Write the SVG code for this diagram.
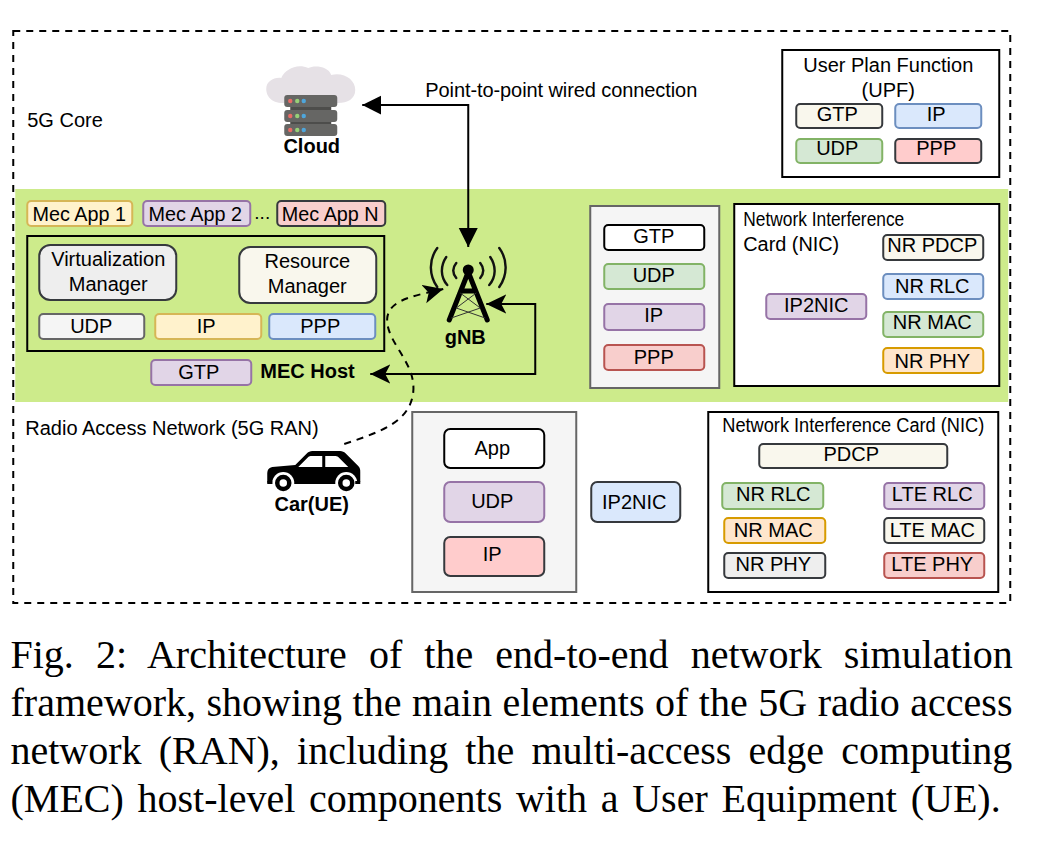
<svg xmlns="http://www.w3.org/2000/svg" width="1042" height="852" viewBox="0 0 1042 852">
<style>
text{font-family:"Liberation Sans",Arial,sans-serif;font-size:20px;fill:#000}
.c{text-anchor:middle}
.b{font-weight:bold}
.cap{font-family:"Liberation Serif","Times New Roman",serif;font-size:40px}
rect.n{stroke-width:2}
.frame{fill:#fff;stroke:#000;stroke-width:2}
.grey{fill:#f5f5f5;stroke:#666;stroke-width:2}
.cream{fill:#f9f7ed;stroke:#36393d}
.blue{fill:#dae8fc;stroke:#6c8ebf}
.green{fill:#d5e8d4;stroke:#82b366}
.pink{fill:#ffcccc;stroke:#36393d}
.purple{fill:#e1d5e7;stroke:#9673a6}
.red{fill:#f8cecc;stroke:#b85450}
.orange{fill:#ffe6cc;stroke:#d79b00}
.yellow{fill:#fff2cc;stroke:#d6b656}
.lgrey{fill:#eeeeee;stroke:#36393d}
.white{fill:#f5f5f5;stroke:#666}
.plain{fill:#fff;stroke:#000}
.link{fill:none;stroke:#000;stroke-width:2}
.arc{fill:none;stroke:#111;stroke-width:2.400;stroke-linecap:round}
</style>
<defs>
<marker id="block" markerUnits="userSpaceOnUse" markerWidth="20" markerHeight="20" refX="19" refY="9.500" orient="auto-start-reverse"><path d="M0 0L19 9.500L0 19Z" fill="#000"/></marker>
<marker id="classic" markerUnits="userSpaceOnUse" markerWidth="21" markerHeight="20" refX="20" refY="9.500" orient="auto-start-reverse"><path d="M0 0L20 9.500L0 19L5 9.500Z" fill="#000"/></marker>
<g id="srv"><rect x="0" y="0" width="53" height="12" rx="3" fill="#666664"/><circle cx="6" cy="6" r="2.200" fill="#ea6b66"/><circle cx="13" cy="6" r="2.200" fill="#97d077"/><circle cx="19.500" cy="6" r="2.200" fill="#4ea6dc"/></g>
</defs>

<g transform="translate(0.25 0)">
<rect id="core-border" x="13" y="31" width="997" height="572" fill="#fff" stroke="#000" stroke-width="2" stroke-dasharray="7 6"/>
<rect id="ran-band" x="15" y="189" width="993" height="213" fill="#cdeb8b"/>
<text x="27" y="127">5G Core</text>
<text x="25" y="435">Radio Access Network (5G RAN)</text>

<g id="cloud">
<path d="M283 103C270 103 266 95 266 89C266 81 274 77 281 78C285 69 297 63 308 68C314 65 328 66 331 75C344 72 355 80 355 90C355 99 347 103 338 103Z" fill="#e6e1e6"/>
<rect x="290" y="105" width="41" height="25" fill="#4d4d4b"/>
<use href="#srv" x="284" y="95"/><use href="#srv" x="284" y="110"/><use href="#srv" x="284" y="124"/>
<text class="c b" x="311.500" y="153">Cloud</text>
</g>

<g id="upf">
<rect class="frame" x="782" y="50" width="217" height="127"/>
<text class="c" x="888" y="72">User Plan Function</text>
<text class="c" x="888" y="97">(UPF)</text>
<rect class="n cream" x="796" y="104" width="86" height="24" rx="4"/><text class="c" x="837" y="121">GTP</text>
<rect class="n blue" x="895" y="104" width="86" height="24" rx="4"/><text class="c" x="936" y="121">IP</text>
<rect class="n green" x="796" y="139" width="86" height="24" rx="4"/><text class="c" x="837" y="155">UDP</text>
<rect class="n pink" x="895" y="139" width="86" height="24" rx="4"/><text class="c" x="936" y="155">PPP</text>
</g>

<g id="mec-apps">
<rect class="n yellow" x="27" y="201" width="105" height="25" rx="4"/><text class="c" x="79" y="221" style="font-size:19.800px">Mec App 1</text>
<rect class="n purple" x="143" y="201" width="107" height="25" rx="4"/><text class="c" x="195" y="221" style="font-size:19.800px">Mec App 2</text>
<text class="c" x="262" y="219" style="font-size:19px">...</text>
<rect class="n red" x="277" y="201" width="108" height="25" rx="4" style="stroke:#36393d"/><text class="c" x="330" y="221" style="font-size:19.800px">Mec App N</text>
</g>

<g id="mec-host">
<rect x="27" y="236" width="357" height="115" fill="none" stroke="#000" stroke-width="2"/>
<rect class="n lgrey" x="39" y="245" width="137" height="55" rx="11"/>
<text class="c" x="108" y="266">Virtualization</text><text class="c" x="108" y="291">Manager</text>
<rect class="n cream" x="239" y="247" width="137" height="56" rx="11"/>
<text class="c" x="307" y="268">Resource</text><text class="c" x="307" y="293">Manager</text>
<rect class="n white" x="39" y="314" width="105" height="25" rx="4"/><text class="c" x="91" y="333">UDP</text>
<rect class="n yellow" x="155" y="314" width="106" height="25" rx="4"/><text class="c" x="206" y="333">IP</text>
<rect class="n blue" x="269" y="314" width="106" height="25" rx="4"/><text class="c" x="320" y="333">PPP</text>
<rect class="n purple" x="151" y="360" width="100" height="25" rx="4"/><text class="c" x="198.500" y="379">GTP</text>
<text class="b" x="260" y="378">MEC Host</text>
</g>

<g id="gnb">
<path class="arc" d="M437 248C428 260 429 276 437 287M446 257C440 266 440 277 447 285M456 263C452 268 452 273 456 278"/>
<path class="arc" d="M499 248C508 260 507 276 499 287M490 257C496 266 496 277 489 285M480 263C484 268 484 273 480 278"/>
<circle cx="468" cy="270" r="5.500" fill="#000"/>
<path d="M468 272L449 320M468 272L487 320M461 291H475" fill="none" stroke="#000" stroke-width="5" stroke-linecap="round"/>
<path d="M460 293L480 308L451 318M476 293L456 308L485 318" fill="none" stroke="#333" stroke-width="1"/>
<text class="c b" x="465" y="344">gNB</text>
</g>

<g id="gnb-stack">
<rect class="grey" x="590" y="206" width="129" height="182"/>
<rect class="n plain" x="604" y="225" width="100" height="25" rx="4"/><text class="c" x="653.500" y="243">GTP</text>
<rect class="n green" x="604" y="264" width="100" height="25" rx="4"/><text class="c" x="653.500" y="282">UDP</text>
<rect class="n purple" x="604" y="304" width="100" height="26" rx="4"/><text class="c" x="653.500" y="322">IP</text>
<rect class="n red" x="604" y="345" width="100" height="25" rx="4"/><text class="c" x="653.500" y="364">PPP</text>
</g>

<g id="gnb-nic">
<rect class="frame" x="734" y="204" width="265" height="182"/>
<text x="743" y="226" textLength="161" lengthAdjust="spacingAndGlyphs" style="font-size:19.500px">Network Interference</text>
<text x="743" y="251" textLength="96" lengthAdjust="spacingAndGlyphs" style="font-size:19.500px">Card (NIC)</text>
<rect class="n purple" x="766" y="294" width="100" height="25" rx="4"/><text class="c" x="816" y="312">IP2NIC</text>
<rect class="n cream" x="883" y="235" width="100" height="25" rx="4"/><text class="c" x="932" y="252">NR PDCP</text>
<rect class="n blue" x="883" y="274" width="100" height="25" rx="4"/><text class="c" x="932" y="293">NR RLC</text>
<rect class="n green" x="883" y="312" width="100" height="25" rx="4"/><text class="c" x="932" y="329">NR MAC</text>
<rect class="n orange" x="883" y="348" width="100" height="25" rx="4"/><text class="c" x="932" y="368">NR PHY</text>
</g>

<g id="car">
<path fill-rule="evenodd" d="M267 475C267 470 268 468 272 467L295 465L307 453C308 452 310 451 312 451H340C342 451 344 452 345 453L358 466C360 468 360 470 360 472V481C360 483 359 484 357 484H270C268 484 267 483 267 481ZM298 467H322V456H311C310 456 309 456 308 457ZM325 467H348L338 457C337 456 336 456 334 456H325Z" fill="#000"/>
<circle cx="283" cy="483" r="11" fill="#fff"/>
<circle cx="346" cy="483" r="11" fill="#fff"/>
<path d="M267 484H272V481H267ZM355 484H360V481H355Z" fill="#000"/>
<circle cx="283" cy="483" r="6" fill="#fff" stroke="#000" stroke-width="4.500"/>
<circle cx="346" cy="483" r="6" fill="#fff" stroke="#000" stroke-width="4.500"/>
<text class="c b" x="311.500" y="511">Car(UE)</text>
</g>

<g id="ue-stack">
<rect class="grey" x="412" y="412" width="164" height="180"/>
<rect class="n plain" x="444" y="429" width="100" height="39" rx="6"/><text class="c" x="492" y="455">App</text>
<rect class="n purple" x="444" y="482" width="100" height="40" rx="6"/><text class="c" x="492" y="508">UDP</text>
<rect class="n pink" x="444" y="537" width="100" height="39" rx="6"/><text class="c" x="492" y="561">IP</text>
</g>

<g id="ue-ip2nic">
<rect class="n blue" x="591" y="482" width="89" height="40" rx="6" style="stroke:#36393d"/><text class="c" x="634" y="509">IP2NIC</text>
</g>

<g id="ue-nic">
<rect class="frame" x="708" y="412" width="290" height="180"/>
<text class="c" x="853" y="432" textLength="262" lengthAdjust="spacingAndGlyphs" style="font-size:19.500px">Network Interference Card (NIC)</text>
<rect class="n cream" x="759" y="444" width="188" height="24" rx="4"/><text class="c" x="851" y="461">PDCP</text>
<rect class="n green" x="722" y="483" width="101" height="26" rx="4"/><text class="c" x="773" y="501">NR RLC</text>
<rect class="n orange" x="724" y="518" width="101" height="25" rx="4"/><text class="c" x="773" y="537">NR MAC</text>
<rect class="n lgrey" x="724" y="553" width="101" height="25" rx="4"/><text class="c" x="773" y="571">NR PHY</text>
<rect class="n purple" x="884" y="483" width="100" height="26" rx="4"/><text class="c" x="932" y="501">LTE RLC</text>
<rect class="n cream" x="884" y="518" width="100" height="25" rx="4"/><text class="c" x="932" y="537">LTE MAC</text>
<rect class="n red" x="884" y="553" width="100" height="25" rx="4"/><text class="c" x="932" y="571">LTE PHY</text>
</g>

<g id="connectors">
<path class="link" d="M362 105H468V247" marker-start="url(#block)" marker-end="url(#block)"/>
<path class="link" d="M486 304H535V374H370" marker-start="url(#classic)" marker-end="url(#classic)"/>
<path class="link" stroke-dasharray="7 6" d="M344 444C380 432 410 422 413 392C416 362 385 342 387 318C389 298 420 295 443 289" marker-end="url(#classic)"/>
<text x="425" y="97" textLength="272">Point-to-point wired connection</text>
</g>
</g>

<g id="caption">
<text class="cap" x="10.500" y="668" style="word-spacing:12.100px">Fig. 2: Architecture of the end-to-end network simulation</text>
<text class="cap" x="10.500" y="716" style="word-spacing:0.500px">framework, showing the main elements of the 5G radio access</text>
<text class="cap" x="10.500" y="764" style="word-spacing:7.200px">network (RAN), including the multi-access edge computing</text>
<text class="cap" x="10.500" y="812" style="word-spacing:3.700px">(MEC) host-level components with a User Equipment (UE).</text>
</g>
</svg>
